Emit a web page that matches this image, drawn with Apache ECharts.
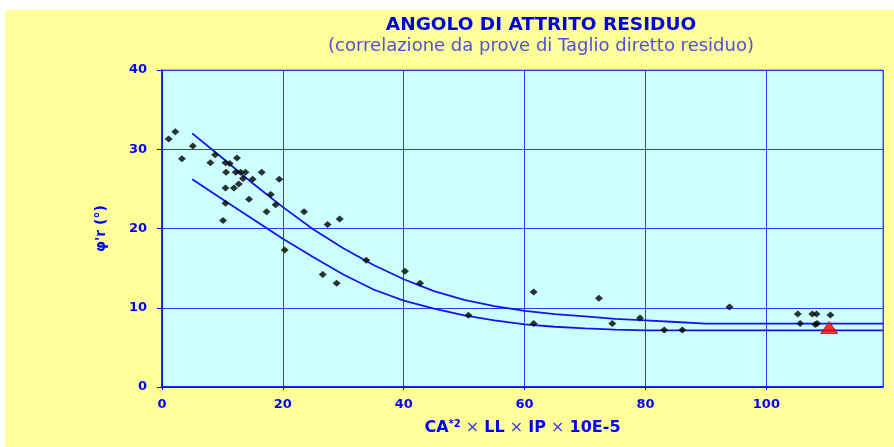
<!DOCTYPE html>
<html>
<head>
<meta charset="utf-8">
<script src="https://cdn.jsdelivr.net/npm/echarts@6/dist/echarts.min.js"></script>
<style>
  html, body { margin: 0; padding: 0; background: #ffffff; }
  #wrap { position: relative; width: 894px; height: 447px; overflow: hidden; }
  #paper { position: absolute; left: 5px; top: 10px; right: 0; bottom: 0; background: #ffff99; }
  #chart { position: absolute; left: 0; top: 0; width: 894px; height: 447px; }
</style>
</head>
<body>
<div id="wrap">
  <div id="paper"></div>
  <div id="chart"></div>
</div>
<script>
// Residual shear test results: index value vs residual friction angle
const sampleX = [1.1, 2.2, 3.3, 5.1, 8.0, 8.8, 10.5, 11.2, 12.4, 10.6, 12.2, 13.0, 13.8, 16.5,
  13.4, 15.0, 19.4, 12.7, 11.9, 10.5, 18.0, 14.4, 18.8, 10.5, 17.3, 23.5, 27.4, 29.4, 10.1,
  20.3, 33.8, 26.6, 28.9, 40.2, 42.7, 50.7, 61.5, 61.5, 72.3, 74.5, 79.1, 83.1, 86.1, 93.9,
  105.2, 105.6, 107.6, 108.3, 108.4, 108.1, 110.6];
const sampleY = [31.3, 32.2, 28.8, 30.4, 28.3, 29.3, 28.3, 28.2, 28.9, 27.1, 27.1, 27.1, 27.1, 27.1,
  26.3, 26.2, 26.2, 25.6, 25.1, 25.1, 24.3, 23.7, 23.0, 23.2, 22.1, 22.1, 20.5, 21.2, 21.0,
  17.3, 16.0, 14.2, 13.1, 14.6, 13.1, 9.05, 12.0, 8.0, 11.2, 8.0, 8.7, 7.2, 7.2, 10.1,
  9.2, 8.0, 9.2, 9.2, 8.0, 7.9, 9.1];

// Upper and lower correlation envelopes
const upperX = [5, 10, 15, 20, 25, 30, 35, 40, 45, 50, 55, 60, 65, 70, 75, 80, 85, 90, 100, 110, 119.3];
const upperY = [32.0, 28.9, 25.7, 22.7, 19.9, 17.5, 15.4, 13.6, 12.1, 11.0, 10.2, 9.6, 9.2, 8.9, 8.6, 8.4, 8.2, 8.0, 8.0, 8.0, 8.0];
const lowerX = [5, 10, 15, 20, 25, 30, 35, 40, 45, 50, 55, 60, 65, 70, 75, 80, 90, 100, 110, 119.3];
const lowerY = [26.2, 23.7, 21.2, 18.7, 16.4, 14.2, 12.3, 10.9, 9.9, 9.05, 8.4, 7.9, 7.6, 7.4, 7.25, 7.15, 7.15, 7.15, 7.15, 7.15];

// Sample under examination
const markerX = [110.4];
const markerY = [7.5];

const xMin = 0, xMax = 119.3, xStep = 20;
const yMin = 0, yMax = 40, yStep = 10;

const pairs = (xs, ys) => xs.map((x, i) => [x, ys[i]]);

const BLUE = '#0000ff';
const FONT = '"DejaVu Sans", "Liberation Sans", sans-serif';

const chart = echarts.init(document.getElementById('chart'), null, { renderer: 'canvas' });

chart.setOption({
  backgroundColor: 'transparent',
  animation: false,
  title: [
    {
      text: 'ANGOLO DI ATTRITO RESIDUO',
      left: 541, top: 16, textAlign: 'center', padding: 0,
      textStyle: { color: '#0000dd', fontFamily: FONT, fontWeight: 'bold', fontSize: 18.5 }
    },
    {
      text: '(correlazione da prove di Taglio diretto residuo)',
      left: 541, top: 37, textAlign: 'center', padding: 0,
      textStyle: { color: '#5050dc', fontFamily: FONT, fontWeight: 'normal', fontSize: 18 }
    }
  ],
  grid: {
    left: 162, top: 70, width: 721, height: 317,
    show: true, backgroundColor: '#ccffff', borderColor: '#5a5aff', borderWidth: 1
  },
  xAxis: {
    type: 'value', min: xMin, max: xMax, interval: xStep,
    axisLine: { show: true, lineStyle: { color: BLUE, width: 1.5 } },
    axisTick: { show: true, length: 3, lineStyle: { color: BLUE } },
    axisLabel: {
      color: BLUE, fontFamily: FONT, fontWeight: 'bold', fontSize: 13, margin: 11,
      showMaxLabel: false
    },
    splitLine: { show: true, lineStyle: { color: '#3535ff', width: 1 } },
    name: '{b|CA}{s|*2}{x| × }{b|LL}{x| × }{b|IP}{x| × }{b|10E-5}',
    nameLocation: 'middle', nameGap: 32,
    nameTextStyle: {
      rich: {
        b: { color: BLUE, fontFamily: FONT, fontWeight: 'bold', fontSize: 16 },
        s: { color: BLUE, fontFamily: FONT, fontWeight: 'bold', fontSize: 10, verticalAlign: 'top', lineHeight: 18 },
        x: { color: '#3c3cd8', fontFamily: FONT, fontWeight: 'normal', fontSize: 16 }
      }
    }
  },
  yAxis: {
    type: 'value', min: yMin, max: yMax, interval: yStep,
    axisLine: { show: true, lineStyle: { color: BLUE, width: 1.5 } },
    axisTick: { show: true, length: 5, lineStyle: { color: BLUE } },
    axisLabel: { color: BLUE, fontFamily: FONT, fontWeight: 'bold', fontSize: 13, margin: 15 },
    splitLine: { show: true, lineStyle: { color: '#3535ff', width: 1 } },
    name: "φ'r (°)",
    nameLocation: 'middle', nameGap: 54, nameRotate: 90,
    nameTextStyle: { color: BLUE, fontFamily: FONT, fontWeight: 'bold', fontSize: 14 }
  },
  series: [
    {
      name: 'limite superiore', type: 'line', data: pairs(upperX, upperY),
      showSymbol: false, smooth: false, z: 3,
      lineStyle: { color: '#1414f0', width: 1.8 }
    },
    {
      name: 'limite inferiore', type: 'line', data: pairs(lowerX, lowerY),
      showSymbol: false, smooth: false, z: 3,
      lineStyle: { color: '#1414f0', width: 1.8 }
    },
    {
      name: 'prove', type: 'scatter', data: pairs(sampleX, sampleY),
      symbol: 'diamond', symbolSize: [8, 7], z: 4,
      itemStyle: { color: '#000000' }
    },
    {
      name: 'campione', type: 'scatter', data: pairs(markerX, markerY),
      symbol: 'triangle', symbolSize: [17, 12], z: 5,
      itemStyle: { color: '#ff0000', borderColor: '#6a0000', borderWidth: 0.8 }
    }
  ]
});
</script>
</body>
</html>
